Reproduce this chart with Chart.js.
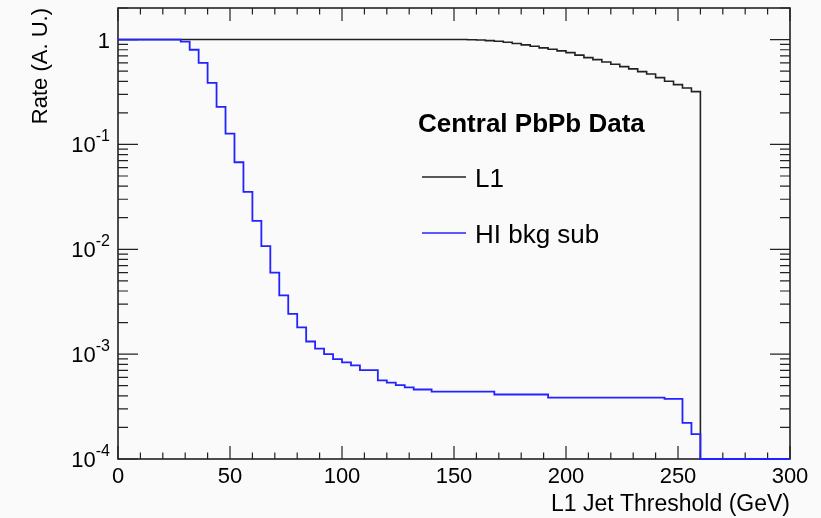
<!DOCTYPE html>
<html>
<head>
<meta charset="utf-8">
<script src="https://cdn.jsdelivr.net/npm/chart.js@4.4.1/dist/chart.umd.min.js"></script>
<style>
  body { margin: 0; background: #fafafa; }
  canvas { display: block; }
</style>
</head>
<body>
<canvas id="chart-rate" width="821" height="518"></canvas>
<script>
// ---------- DATOS (bins de 4 GeV, bordes 0..300)
const binEdges = [0, 4, 8, 12, 16, 20, 24, 28, 32, 36, 40, 44, 48, 52, 56, 60, 64, 68, 72, 76,
  80, 84, 88, 92, 96, 100, 104, 108, 112, 116, 120, 124, 128, 132, 136, 140, 144, 148, 152, 156,
  160, 164, 168, 172, 176, 180, 184, 188, 192, 196, 200, 204, 208, 212, 216, 220, 224, 228, 232, 236,
  240, 244, 248, 252, 256, 260, 264, 268, 272, 276, 280, 284, 288, 292, 296, 300];

// L1 (negro) - bins vacios a partir de 260 quedan en el piso del eje
const l1Rate = [1, 1, 1, 1, 1, 1, 1, 1, 1, 1, 1, 1, 1, 1, 1, 1, 1, 1, 1, 1,
  1, 1, 1, 1, 1, 1, 1, 1, 1, 1, 1, 1, 1, 1, 1, 1, 1, 1, 1, 0.996,
  0.989, 0.978, 0.963, 0.942, 0.916, 0.890, 0.863, 0.833, 0.808, 0.780, 0.751, 0.711, 0.673, 0.644, 0.612, 0.581, 0.552, 0.525, 0.495, 0.469,
  0.434, 0.401, 0.372, 0.345, 0.319, 1e-4, 1e-4, 1e-4, 1e-4, 1e-4, 1e-4, 1e-4, 1e-4, 1e-4, 1e-4];

// HI bkg sub (azul)
const hiRate = [1, 1, 1, 1, 1, 1, 1, 0.957, 0.80, 0.599, 0.386, 0.228, 0.127, 0.0676, 0.0352, 0.0187, 0.0107, 0.0060, 0.00363, 0.00242,
  0.00180, 0.00132, 0.00113, 0.00100, 0.000897, 0.000834, 0.00078, 0.000705, 0.000705, 0.000562, 0.000534, 0.000507, 0.000481, 0.00046, 0.00046, 0.00044, 0.00044, 0.00044, 0.00044, 0.00044,
  0.00044, 0.00044, 0.000412, 0.000412, 0.000412, 0.000412, 0.000412, 0.000412, 0.000385, 0.000385, 0.000385, 0.000385, 0.000385, 0.000385, 0.000385, 0.000385, 0.000385, 0.000385, 0.000385, 0.000385,
  0.000385, 0.000374, 0.000374, 0.000221, 0.000173, 1e-4, 1e-4, 1e-4, 1e-4, 1e-4, 1e-4, 1e-4, 1e-4, 1e-4, 1e-4];

const xTickValues = [0, 50, 100, 150, 200, 250, 300];
const xTickLabels = ['0', '50', '100', '150', '200', '250', '300'];
const yTickValues = [1, 0.1, 0.01, 0.001, 0.0001];
const yTickExps = ['', '-1', '-2', '-3', '-4'];

const legendTitle = 'Central PbPb Data';
const seriesNames = ['L1', 'HI bkg sub'];
const xTitle = 'L1 Jet Threshold (GeV)';
const yTitle = 'Rate (A. U.)';

// histograma -> puntos escalonados (el ultimo borde repite el ultimo bin)
function toSteps(vals) {
  let pts = [];
  for (let i = 0; i < vals.length; i++) {
    pts.push({ x: binEdges[i], y: vals[i] });
  }
  pts.push({ x: binEdges[vals.length], y: vals[vals.length - 1] });
  return pts;
}

const FONT = '"Liberation Sans", Arial, Helvetica, sans-serif';
const colorL1 = '#222222';
const colorHI = '#2323ff';

// ---------- MARCO, TICKS Y TEXTOS ESTILO ROOT
const rootFrame = {
  id: 'rootFrame',
  beforeDatasetsDraw(chart) {
    const ctx = chart.ctx;
    const a = chart.chartArea;
    const xs = chart.scales.x;
    const ys = chart.scales.y;
    ctx.save();
    ctx.strokeStyle = '#222';
    ctx.lineWidth = 1.2;
    ctx.beginPath();
    // ticks x (abajo y arriba)
    for (let v = 0; v <= 300; v += 10) {
      const px = xs.getPixelForValue(v);
      const len = (v % 50 === 0) ? 13 : 6.5;
      ctx.moveTo(px, a.bottom); ctx.lineTo(px, a.bottom - len);
      ctx.moveTo(px, a.top); ctx.lineTo(px, a.top + len);
    }
    // ticks y log (izquierda y derecha)
    for (let d = 0.0001; d <= 1; d *= 10) {
      for (let m = 1; m <= 9; m++) {
        const v = d * m;
        if (v > 2) break;
        const py = ys.getPixelForValue(v);
        const len = (m === 1) ? 20 : 10;
        ctx.moveTo(a.left, py); ctx.lineTo(a.left + len, py);
        ctx.moveTo(a.right, py); ctx.lineTo(a.right - len, py);
      }
    }
    ctx.stroke();
    ctx.lineWidth = 1.6;
    ctx.strokeRect(a.left, a.top, a.right - a.left, a.bottom - a.top);
    ctx.restore();
  },
  afterDatasetsDraw(chart) {
    const ctx = chart.ctx;
    const a = chart.chartArea;
    const xs = chart.scales.x;
    const ys = chart.scales.y;
    ctx.save();
    ctx.fillStyle = '#000';
    // etiquetas eje x
    ctx.font = '22px ' + FONT;
    ctx.textAlign = 'center';
    ctx.textBaseline = 'alphabetic';
    xTickValues.forEach(function (v, i) {
      ctx.fillText(xTickLabels[i], xs.getPixelForValue(v), a.bottom + 24);
    });
    // etiquetas eje y (10 con exponente)
    yTickValues.forEach(function (v, i) {
      const py = ys.getPixelForValue(v) + 8;
      const xr = a.left - 8;
      ctx.textAlign = 'right';
      if (yTickExps[i] === '') {
        ctx.font = '22px ' + FONT;
        ctx.fillText('1', xr, py);
      } else {
        ctx.font = '16px ' + FONT;
        const w = ctx.measureText(yTickExps[i]).width;
        ctx.fillText(yTickExps[i], xr, py - 11);
        ctx.font = '22px ' + FONT;
        ctx.fillText('10', xr - w, py);
      }
    });
    // titulos de ejes
    ctx.font = '23px ' + FONT;
    ctx.textAlign = 'right';
    ctx.fillText(xTitle, a.right, 511);
    ctx.save();
    ctx.translate(47, 8);
    ctx.rotate(-Math.PI / 2);
    ctx.font = '22px ' + FONT;
    ctx.textAlign = 'right';
    ctx.fillText(yTitle, 0, 0);
    ctx.restore();
    // leyenda
    ctx.textAlign = 'left';
    ctx.font = 'bold 26px ' + FONT;
    ctx.fillText(legendTitle, 418, 132);
    ctx.font = '26px ' + FONT;
    const rows = [{ y: 177, c: colorL1 }, { y: 233, c: colorHI }];
    rows.forEach(function (r, i) {
      ctx.strokeStyle = r.c;
      ctx.lineWidth = 1.6;
      ctx.beginPath();
      ctx.moveTo(422, r.y); ctx.lineTo(466, r.y);
      ctx.stroke();
      ctx.fillText(seriesNames[i], 475, r.y + 10);
    });
    ctx.restore();
  }
};

const ctx = document.getElementById('chart-rate').getContext('2d');
// 'before' en Chart.js = tramo horizontal primero, salto vertical en el borde siguiente
let myChartRate = new Chart(ctx, {
  type: 'line',
  data: {
    datasets: [{
      label: seriesNames[1],
      data: toSteps(hiRate),
      borderColor: colorHI,
      borderWidth: 1.8,
      stepped: 'before',
      pointRadius: 0,
      fill: false,
      clip: false
    }, {
      label: seriesNames[0],
      data: toSteps(l1Rate),
      borderColor: colorL1,
      borderWidth: 1.6,
      stepped: 'before',
      pointRadius: 0,
      fill: false,
      clip: false
    }]
  },
  options: {
    responsive: false,
    animation: false,
    layout: { padding: { left: 118, right: 31, top: 8, bottom: 59 } },
    scales: {
      x: { type: 'linear', min: 0, max: 300, display: false },
      y: { type: 'logarithmic', min: 0.0001, max: 2, display: false }
    },
    plugins: {
      legend: { display: false },
      tooltip: { enabled: false }
    }
  },
  plugins: [rootFrame]
});
</script>
</body>
</html>
